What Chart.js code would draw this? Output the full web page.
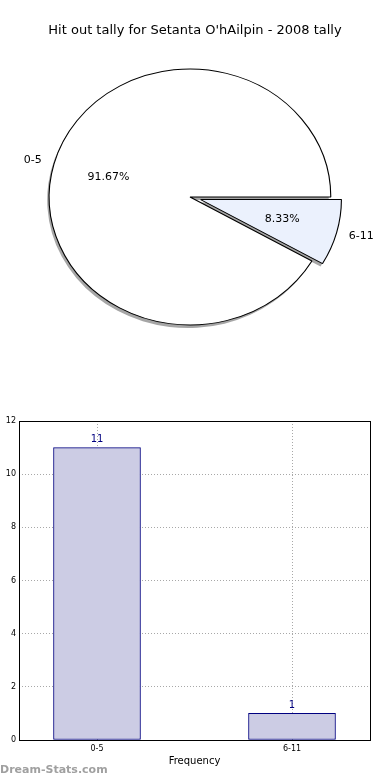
<!DOCTYPE html>
<html>
<head>
<meta charset="utf-8">
<script src="https://cdn.jsdelivr.net/npm/chart.js@4.4.1/dist/chart.umd.min.js"></script>
<style>
  html, body { margin: 0; padding: 0; background: #fff; }
  body { width: 390px; height: 780px; position: relative; overflow: hidden; font-family: "DejaVu Sans", sans-serif; }
  #title { position: absolute; top: 22px; left: 0; width: 390px; text-align: center; font-size: 13px; color: #000; }
  #pieBox { position: absolute; left: 0; top: 0; width: 390px; height: 380px; }
  #barBox { position: absolute; left: 0; top: 400px; width: 390px; height: 380px; }
  #mark { position: absolute; left: 0; top: 763px; font-size: 11px; font-weight: bold; color: #a0a0a0; }
</style>
</head>
<body>
<div id="pieBox"><canvas id="pie"></canvas></div>
<div id="barBox"><canvas id="bar"></canvas></div>
<div id="title">Hit out tally for Setanta O'hAilpin - 2008 tally</div>
<div id="mark">Dream-Stats.com</div>
<script>
// data
const categories = ["0-5", "6-11"];
const tally = [11, 1];
const yTicks = [0, 2, 4, 6, 8, 10, 12];

const FONT = "DejaVu Sans";
const SX = 1.1;          // pie is a bit wider than tall
const EXPLODE = [0, 10]; // px pulled out along the slice middle

const midOf = (a) => (a.startAngle + a.endAngle) / 2;

// pie: stretch, explode, shadow, labels
const pieLook = {
  id: "pieLook",
  beforeDatasetsDraw(chart) {
    const ctx = chart.ctx;
    const meta = chart.getDatasetMeta(0);
    const c = meta.data[0];

    // pull slices out (wrap each arc's draw once)
    meta.data.forEach((a, i) => {
      if (a._exploded) return;
      const orig = a.draw.bind(a);
      a.draw = (cx) => {
        const m = midOf(a), d = EXPLODE[i] || 0;
        cx.save();
        cx.translate(Math.cos(m) * d, Math.sin(m) * d);
        orig(cx);
        cx.restore();
      };
      a._exploded = true;
    });

    // shadow under slices
    ctx.save();
    ctx.translate(-2, 3);
    ctx.translate(c.x, c.y);
    ctx.scale(SX, 1);
    ctx.translate(-c.x, -c.y);
    ctx.fillStyle = "rgba(77,77,77,0.5)";
    meta.data.forEach((a, i) => {
      const m = midOf(a), d = EXPLODE[i] || 0;
      const x = a.x + Math.cos(m) * d, y = a.y + Math.sin(m) * d;
      ctx.beginPath();
      ctx.moveTo(x, y);
      ctx.arc(x, y, a.outerRadius, a.startAngle, a.endAngle);
      ctx.closePath();
      ctx.fill();
    });
    ctx.restore();

    ctx.save();
    ctx.translate(c.x, c.y);
    ctx.scale(SX, 1);
    ctx.translate(-c.x, -c.y);
  },
  afterDatasetsDraw(chart) {
    const ctx = chart.ctx;
    ctx.restore();
    const ds = chart.data.datasets[0];
    const total = ds.data.reduce((s, v) => s + v, 0);
    ctx.save();
    ctx.font = "11px '" + FONT + "'";
    ctx.fillStyle = "#000";
    ctx.textBaseline = "middle";
    chart.getDatasetMeta(0).data.forEach((a, i) => {
      const m = midOf(a);
      const r = a.outerRadius;
      const d = EXPLODE[i] || 0;
      const px = (k) => a.x + SX * Math.cos(m) * (k * r + d);
      const py = (k) => a.y + Math.sin(m) * (k * r + d);
      ctx.textAlign = "center";
      ctx.fillText((ds.data[i] / total * 100).toFixed(2) + "%", px(0.6), py(0.6));
      ctx.textAlign = Math.cos(m) < 0 ? "right" : "left";
      ctx.fillText(chart.data.labels[i], px(1.09), py(1.1));
    });
    ctx.restore();
  }
};

new Chart(document.getElementById("pie"), {
  type: "pie",
  data: {
    labels: categories,
    datasets: [{
      data: tally,
      backgroundColor: ["#ffffff", "#ebf1fd"],
      borderColor: "#000",
      borderWidth: 1,
      radius: 128,
      rotation: 120,
    }]
  },
  options: {
    responsive: true,
    maintainAspectRatio: false,
    animation: false,
    events: [],
    layout: { padding: { left: 0, right: 10, top: 14, bottom: 0 } },
    plugins: { legend: { display: false }, tooltip: { enabled: false } },
  },
  plugins: [pieLook]
});

// bar: frame, value labels, y title
const barLook = {
  id: "barLook",
  afterDatasetsDraw(chart) {
    const ctx = chart.ctx;
    ctx.save();
    ctx.font = "10px '" + FONT + "'";
    ctx.fillStyle = "#000080";
    ctx.textAlign = "center";
    ctx.textBaseline = "bottom";
    chart.getDatasetMeta(0).data.forEach((b, i) => {
      ctx.fillText(String(tally[i]), b.x, b.y - 3);
    });
    ctx.restore();
  },
  afterDraw(chart) {
    const ctx = chart.ctx;
    const a = chart.chartArea;
    ctx.save();
    ctx.strokeStyle = "#000";
    ctx.lineWidth = 1;
    ctx.strokeRect(Math.round(a.left) + 0.5, Math.round(a.top) + 0.5,
      Math.round(a.right - a.left), Math.round(a.bottom - a.top));
    ctx.translate(0, (a.top + a.bottom) / 2);
    ctx.rotate(-Math.PI / 2);
    ctx.font = "10px '" + FONT + "'";
    ctx.fillStyle = "#000";
    ctx.textAlign = "center";
    ctx.textBaseline = "bottom";
    ctx.fillText("No. of Games", 0, 2);
    ctx.restore();
  }
};

new Chart(document.getElementById("bar"), {
  type: "bar",
  data: {
    datasets: [{
      data: tally.map((v, i) => ({ x: i, y: v })),
      backgroundColor: "#ccccE4",
      borderColor: "#000080",
      borderWidth: 1,
      borderSkipped: false,
      barThickness: 87,
    }]
  },
  options: {
    responsive: true,
    maintainAspectRatio: false,
    animation: false,
    events: [],
    layout: { padding: { left: 0, right: 20, top: 21, bottom: 0 } },
    plugins: { legend: { display: false }, tooltip: { enabled: false } },
    scales: {
      x: {
        type: "linear",
        min: -0.4,
        max: 1.4,
        offset: false,
        z: 1,
        afterBuildTicks: (s) => { s.ticks = categories.map((c, i) => ({ value: i })); },
        afterFit: (s) => { s.height = 40; },
        ticks: {
          callback: (v) => categories[v] ?? "",
          font: { size: 8, family: FONT },
          color: "#000",
          padding: 4,
          maxRotation: 0,
          autoSkip: false,
        },
        grid: { color: "#a8a8a8", drawTicks: false, offset: false },
        border: { display: false, dash: [1, 2] },
        title: {
          display: true,
          text: "Frequency",
          font: { size: 10, family: FONT },
          color: "#000",
          padding: { top: 2, bottom: 13 },
        },
      },
      y: {
        min: 0,
        max: 12,
        afterBuildTicks: (s) => { s.ticks = yTicks.map((v) => ({ value: v })); },
        afterFit: (s) => { s.width = 19; },
        ticks: {
          font: { size: 8, family: FONT },
          color: "#000",
          padding: 3,
        },
        grid: { color: "#a8a8a8", drawTicks: false },
        border: { display: false, dash: [1, 2] },
      },
    },
  },
  plugins: [barLook]
});
</script>
</body>
</html>
